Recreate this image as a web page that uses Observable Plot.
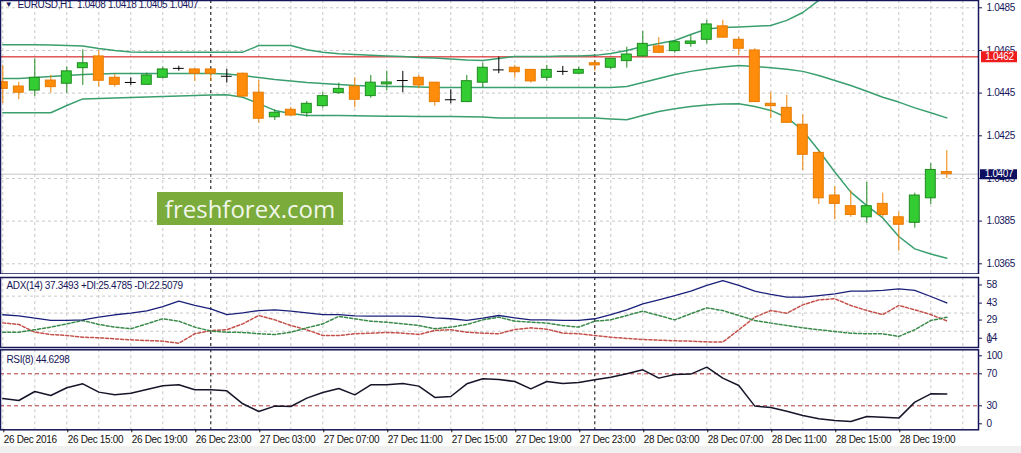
<!DOCTYPE html>
<html><head><meta charset="utf-8">
<script src="https://cdn.jsdelivr.net/npm/d3@7"></script>
<script src="https://cdn.jsdelivr.net/npm/@observablehq/plot@0.6"></script>
<style>
body{margin:0;background:#fff;}
#wrap{position:relative;width:1021px;height:453px;overflow:hidden;background:#fff;}
.panel{position:absolute;left:0;width:1021px;}
#foot{position:absolute;left:0;top:446px;width:1021px;height:7px;background:#f0f0f0;}
#wm{position:absolute;left:157px;top:192px;width:186px;height:33px;background:#7aab3b;color:#f1f6ea;
 font-family:"Open Sans",sans-serif;font-size:24px;line-height:33px;text-align:center;}
</style></head>
<body><div id="wrap"><div id="foot"></div></div>
<script>
// ---------- data ----------
const dateLabels = ["26 Dec 2016","26 Dec 15:00","26 Dec 19:00","26 Dec 23:00","27 Dec 03:00","27 Dec 07:00","27 Dec 11:00","27 Dec 15:00","27 Dec 19:00","27 Dec 23:00","28 Dec 03:00","28 Dec 07:00","28 Dec 11:00","28 Dec 15:00","28 Dec 19:00"];
const priceTicks = [1.0485,1.0465,1.0445,1.0425,1.0405,1.0385,1.0365];
const adxTicks = [58,43,29,14];
const rsiLevels = [70,30];
const daySeparators = [13,37];
const redLevel = 1.0462;
const bidPrice = 1.0407;
const mainHeader = "EURUSD,H1  1.0408 1.0418 1.0405 1.0407";
const adxHeader = "ADX(14) 37.3493 +DI:25.4785 -DI:22.5079";
const rsiHeader = "RSI(8) 44.6298";

const open = [1.04501,1.04481,1.04462,1.04509,1.04494,1.04567,1.04622,1.04522,1.04500,1.04489,
1.04522,1.04566,1.04561,1.04561,1.04529,1.04541,1.04452,1.04337,1.04372,1.04356,
1.04389,1.04450,1.04481,1.04436,1.04491,1.04509,1.04522,1.04499,1.04419,1.04408,
1.04499,1.04559,1.04569,1.04559,1.04522,1.04552,1.04541,1.04590,1.04569,1.04600,
1.04622,1.04669,1.04647,1.04681,1.04700,1.04763,1.04700,1.04650,1.04400,1.04381,
1.04302,1.04170,1.03970,1.03920,1.03868,1.03931,1.03868,1.03842,1.03957,1.04080];
const high = [1.04580,1.04501,1.04611,1.04533,1.04572,1.04653,1.04650,1.04537,1.04522,1.04544,
1.04572,1.04576,1.04564,1.04564,1.04561,1.04544,1.04509,1.04372,1.04384,1.04411,
1.04452,1.04497,1.04522,1.04533,1.04553,1.04552,1.04533,1.04500,1.04466,1.04533,
1.04590,1.04619,1.04580,1.04560,1.04580,1.04575,1.04572,1.04603,1.04612,1.04665,
1.04739,1.04710,1.04697,1.04720,1.04791,1.04791,1.04712,1.04658,1.04454,1.04439,
1.04348,1.04178,1.04012,1.03993,1.04032,1.03981,1.03892,1.03981,1.04119,1.04180];
const low = [1.04401,1.04419,1.04434,1.04450,1.04450,1.04486,1.04478,1.04478,1.04486,1.04487,
1.04517,1.04553,1.04505,1.04505,1.04497,1.04431,1.04309,1.04322,1.04342,1.04337,
1.04379,1.04444,1.04381,1.04426,1.04462,1.04452,1.04470,1.04389,1.04400,1.04407,
1.04475,1.04541,1.04520,1.04497,1.04506,1.04533,1.04537,1.04552,1.04559,1.04567,
1.04619,1.04635,1.04637,1.04665,1.04681,1.04709,1.04627,1.04407,1.04330,1.04310,
1.04087,1.03928,1.03857,1.03868,1.03840,1.03868,1.03709,1.03817,1.03928,1.04050];
const close = [1.04470,1.04452,1.04522,1.04478,1.04552,1.04590,1.04508,1.04489,1.04500,1.04533,
1.04561,1.04566,1.04541,1.04541,1.04529,1.04434,1.04330,1.04358,1.04345,1.04400,
1.04436,1.04470,1.04419,1.04499,1.04500,1.04509,1.04486,1.04408,1.04419,1.04506,
1.04569,1.04559,1.04548,1.04505,1.04559,1.04552,1.04559,1.04580,1.04611,1.04631,
1.04681,1.04639,1.04689,1.04692,1.04772,1.04710,1.04658,1.04408,1.04389,1.04311,
1.04161,1.03957,1.03931,1.03879,1.03920,1.03879,1.03833,1.03970,1.04090,1.04070];

const bbUpper = [1.04677,1.04677,1.04677,1.04676,1.04673,1.04671,1.04659,1.04650,1.04643,1.04642,
1.04642,1.04642,1.04642,1.04642,1.04642,1.04642,1.04673,1.04673,1.04673,1.04653,
1.04642,1.04635,1.04631,1.04627,1.04624,1.04622,1.04617,1.04615,1.04610,1.04605,
1.04603,1.04612,1.04622,1.04622,1.04622,1.04624,1.04624,1.04627,1.04636,1.04650,
1.04669,1.04683,1.04697,1.04725,1.04751,1.04758,1.04760,1.04763,1.04767,1.04791,
1.04828,1.04885,1.04955,1.05016,1.05072,1.05119,1.05157,1.05185,1.05203,1.05213];
const bbMiddle = [1.04519,1.04519,1.04523,1.04528,1.04533,1.04537,1.04540,1.04542,1.04542,1.04542,
1.04542,1.04542,1.04542,1.04542,1.04540,1.04533,1.04523,1.04514,1.04507,1.04500,
1.04495,1.04490,1.04486,1.04483,1.04481,1.04481,1.04479,1.04476,1.04476,1.04476,
1.04476,1.04476,1.04476,1.04476,1.04476,1.04476,1.04476,1.04476,1.04476,1.04481,
1.04500,1.04519,1.04537,1.04552,1.04563,1.04573,1.04580,1.04575,1.04569,1.04562,
1.04552,1.04533,1.04509,1.04486,1.04459,1.04431,1.04408,1.04381,1.04358,1.04334];
const bbLower = [1.04358,1.04358,1.04358,1.04358,1.04392,1.04423,1.04425,1.04427,1.04430,1.04432,
1.04434,1.04437,1.04439,1.04441,1.04442,1.04431,1.04401,1.04369,1.04355,1.04345,
1.04345,1.04345,1.04344,1.04343,1.04342,1.04342,1.04341,1.04340,1.04340,1.04339,
1.04338,1.04334,1.04334,1.04334,1.04334,1.04334,1.04334,1.04334,1.04329,1.04325,
1.04345,1.04364,1.04377,1.04387,1.04394,1.04399,1.04400,1.04387,1.04369,1.04336,
1.04275,1.04181,1.04080,1.03986,1.03923,1.03865,1.03778,1.03720,1.03696,1.03676];

const adx = [27.6,26.7,24.8,22.9,22.9,23.4,25.6,27.6,28.9,30.9,
34.4,38.9,35.3,32.5,27.8,29.2,31.1,31.7,30.6,29.2,
27.8,27.8,26.7,26.5,26.5,26.5,26.2,25.1,24.3,22.9,
24.8,27.0,25.1,23.4,23.4,22.9,22.9,24.3,27.8,31.7,
36.6,40.0,43.5,47.1,51.8,55.9,51.8,47.1,44.4,42.2,
42.2,43.5,44.9,47.1,47.1,47.7,49.0,47.7,42.7,37.35];
const plusDI = [13.2,13.2,15.2,17.4,20.1,22.9,19.6,17.4,16.0,20.1,
24.3,22.3,17.4,14.1,13.2,13.0,11.9,11.3,13.2,16.8,
20.1,26.2,24.3,22.3,21.5,20.1,18.7,16.0,17.4,19.6,
23.4,25.6,22.3,21.5,20.7,18.7,17.4,22.3,23.4,27.0,
30.6,27.0,23.4,28.4,33.3,31.1,27.0,22.9,20.7,18.7,
16.8,15.2,13.8,12.4,11.9,11.9,9.7,15.2,22.9,25.48];
const minusDI = [20.9,19.6,13.2,11.3,10.5,9.1,8.6,7.7,6.9,6.3,
5.8,4.1,11.9,14.6,15.2,20.1,27.0,23.4,18.7,15.2,
10.5,10.5,11.9,12.4,13.0,12.4,11.3,14.6,15.2,13.2,
12.4,11.9,15.4,16.8,15.7,12.4,11.9,10.5,9.1,8.0,
7.2,6.6,6.1,5.8,5.2,5.0,15.2,25.6,31.1,28.9,
35.8,39.9,40.8,35.3,31.1,27.8,35.3,31.7,27.8,22.51];
const rsi = [39.1,36.6,47.9,42.9,52.5,57.5,47.1,43.7,45.8,50.4,
55.0,56.2,50.0,50.0,48.7,32.5,22.9,29.6,29.1,39.6,
46.6,51.6,43.7,56.2,56.2,57.9,54.6,40.4,41.6,57.5,
63.7,62.9,60.4,51.2,60.4,57.9,59.1,62.5,65.8,70.0,
75.0,64.6,69.1,69.6,78.3,64.6,55.4,29.6,27.9,23.3,
17.9,13.7,11.6,10.4,16.6,15.8,14.6,34.6,45.0,44.63];

// ---------- tables ----------
const rows = open.map((o, i) => ({i, open: o, high: high[i], low: low[i], close: close[i],
  upper: bbUpper[i], middle: bbMiddle[i], lower: bbLower[i],
  adx: adx[i], pdi: plusDI[i], mdi: minusDI[i], rsi: rsi[i]}));
const bull = rows.filter(d => d.close > d.open);
const bear = rows.filter(d => d.close < d.open);
const doji = rows.filter(d => d.close === d.open);
const gridBars = d3.range(0, 61, 2);
const dateTicks = dateLabels.map((_, k) => k * 4);

// ---------- styles ----------
const navy = "#16165a";
const gridC = "#c8c8c8";
const bandC = "#3a9f6e";
const half = 0.31;
const xDomain = [-0.14375, 60.98125];
const svgStyle = {fontFamily: "'Liberation Sans', Arial, sans-serif", fontSize: "10px",
  letterSpacing: "-0.35px", color: navy, background: "transparent"};
const base = {width: 1021, marginLeft: 0, marginRight: 43, style: svgStyle};
const vgrid = () => Plot.gridX(gridBars, {stroke: gridC, strokeOpacity: 1, strokeDasharray: "3,3"});
const seps = () => Plot.ruleX(daySeparators, {stroke: "#000", strokeDasharray: "3,3"});
const yAxis = (ticks, extra) => Plot.axisY(ticks, {anchor: "right", tickSize: 3, tickPadding: 5, color: navy, label: null, ...extra});

const main = Plot.plot({
  ...base, height: 274, marginTop: 0, marginBottom: 0.5,
  x: {domain: xDomain, axis: null},
  y: {domain: [1.036022, 1.048842]},
  marks: [
    Plot.gridY(priceTicks, {stroke: gridC, strokeOpacity: 1, strokeDasharray: "3,3"}),
    vgrid(),
    Plot.ruleY([bidPrice], {stroke: "#c4c4c4"}),
    seps(),
    Plot.ruleY([redLevel], {stroke: "#d00000"}),
    Plot.line(rows, {x: "i", y: "upper", stroke: bandC, clip: true}),
    Plot.line(rows, {x: "i", y: "middle", stroke: bandC}),
    Plot.line(rows, {x: "i", y: "lower", stroke: bandC}),
    Plot.ruleX(bull, {x: "i", y1: "low", y2: "high", stroke: "#1f8a1f"}),
    Plot.ruleX(bear, {x: "i", y1: "low", y2: "high", stroke: "#f08000"}),
    Plot.ruleX(doji, {x: "i", y1: "low", y2: "high", stroke: "#000"}),
    Plot.rect(bull, {x1: d => d.i - half, x2: d => d.i + half, y1: "open", y2: "close", fill: "#33cc33", stroke: "#1f8a1f"}),
    Plot.rect(bear, {x1: d => d.i - half, x2: d => d.i + half, y1: "open", y2: "close", fill: "#ff8c0a", stroke: "#e67a00"}),
    Plot.ruleY(doji, {y: "open", x1: d => d.i - half - 0.03, x2: d => d.i + half + 0.03, stroke: "#000"}),
    Plot.frame({stroke: navy, strokeWidth: 1.5}),
    yAxis(priceTicks, {tickFormat: d3.format(".4f")}),
    Plot.ruleY([redLevel], {stroke: "#ee1c1c", strokeWidth: 11, insetLeft: 981, insetRight: -39}),
    Plot.text([redLevel], {y: d => d, text: d3.format(".4f"), frameAnchor: "right", dx: 21, textAnchor: "middle", fill: "#fff"}),
    Plot.ruleY([bidPrice], {stroke: "#0e0e60", strokeWidth: 10, insetLeft: 980, insetRight: -39}),
    Plot.text([bidPrice], {y: d => d, text: d3.format(".4f"), frameAnchor: "right", dx: 20.5, textAnchor: "middle", fill: "#fff"}),
    Plot.text(["\u25BC"], {frameAnchor: "top-left", dx: 8, dy: 4, fontSize: 8, textAnchor: "middle", fill: navy, lineAnchor: "middle"}),
    Plot.text([mainHeader], {frameAnchor: "top-left", dx: 17, dy: 4, textAnchor: "start", lineAnchor: "middle", fill: navy})
  ]
});

const adxPlot = Plot.plot({
  ...base, height: 75, marginTop: 3, marginBottom: 2,
  x: {domain: xDomain, axis: null},
  y: {domain: [0.55, 58.4]},
  marks: [
    Plot.gridY([43, 29, 14], {stroke: gridC, strokeOpacity: 1, strokeDasharray: "3,3"}),
    vgrid(),
    seps(),
    Plot.line(rows, {x: "i", y: "mdi", stroke: "#c4504a", strokeDasharray: "3,2"}),
    Plot.line(rows, {x: "i", y: "pdi", stroke: "#3a8a4a", strokeDasharray: "3,2"}),
    Plot.line(rows, {x: "i", y: "adx", stroke: "#1a1f7a", strokeWidth: 1.3}),
    Plot.frame({stroke: navy, strokeWidth: 1.5}),
    yAxis(adxTicks, {dy: 7}),
    Plot.text([0], {y: d => d, text: d => String(d), frameAnchor: "right", dx: 8, dy: -8, textAnchor: "start", fill: navy}),
    Plot.text([adxHeader], {frameAnchor: "top-left", dx: 6, dy: 8, textAnchor: "start", lineAnchor: "middle", fill: navy})
  ]
});

const rsiPlot = Plot.plot({
  ...base, height: 99, marginTop: 2.3, marginBottom: 16.7,
  x: {domain: xDomain},
  y: {domain: [0, 100]},
  marks: [
    vgrid(),
    seps(),
    Plot.ruleY(rsiLevels, {stroke: "#b23a3a", strokeDasharray: "4,3"}),
    Plot.line(rows, {x: "i", y: "rsi", stroke: "#15152a"}),
    Plot.frame({stroke: navy, strokeWidth: 1.5}),
    yAxis(rsiLevels, {}),
    yAxis([100], {dy: 6}),
    yAxis([0], {dy: -6}),
    Plot.axisX(dateTicks, {anchor: "bottom", tickSize: 3, tickPadding: 3, textAnchor: "start", dx: 1,
      tickFormat: d => dateLabels[d / 4], color: "#111", label: null}),
    Plot.text([rsiHeader], {frameAnchor: "top-left", dx: 6, dy: 10, textAnchor: "start", lineAnchor: "middle", fill: navy})
  ]
});

const wrap = document.getElementById("wrap");
[[main, 0], [adxPlot, 274], [rsiPlot, 347]].forEach(([svg, top]) => {
  const d = document.createElement("div");
  d.className = "panel";
  d.style.top = top + "px";
  d.appendChild(svg);
  wrap.appendChild(d);
});
const wm = document.createElement("div");
wm.id = "wm";
wm.textContent = "freshforex.com";
wrap.appendChild(wm);
</script>
</body></html>
